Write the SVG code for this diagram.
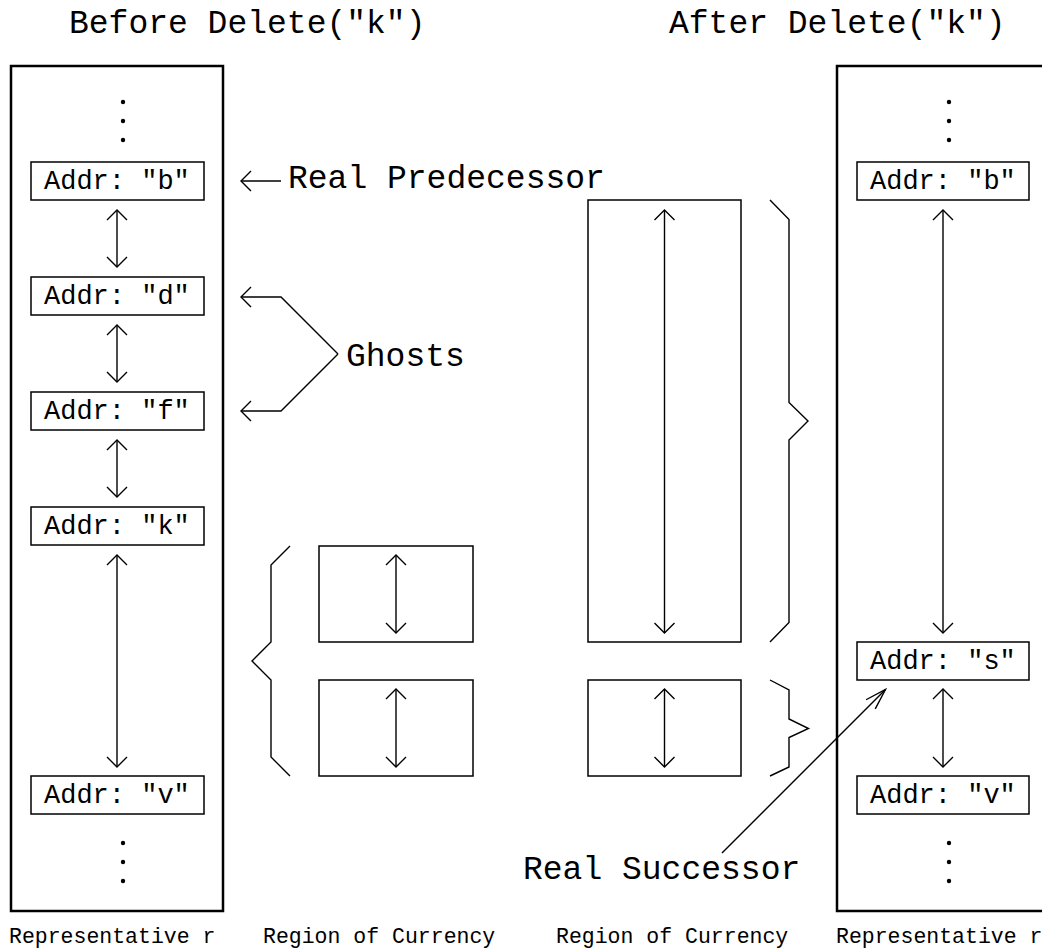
<svg xmlns="http://www.w3.org/2000/svg" width="1042" height="950" viewBox="0 0 1042 950">
<style>
text{font-family:"Liberation Mono","Courier New",monospace;fill:#000}
.title{font-size:33px}
.lbl{font-size:33px}
.addr{font-size:27px}
.foot{font-size:21.5px}
.frame{fill:none;stroke:#000;stroke-width:2.5}
.box{fill:#fff;stroke:#000;stroke-width:1.5}
.reg{fill:none;stroke:#000;stroke-width:1.5}
.ln{fill:none;stroke:#000;stroke-width:1.4}
.dot{fill:#000}
</style>
<defs>
<marker id="ah" markerUnits="userSpaceOnUse" viewBox="-12 -12 14 24" refX="0" refY="0" markerWidth="14" markerHeight="24" orient="auto-start-reverse"><path d="M-10,-10 L0,0 L-10,10" fill="none" stroke="#000" stroke-width="1.4"/></marker>
<marker id="ah2" markerUnits="userSpaceOnUse" viewBox="-22 -8 24 16" refX="0" refY="0" markerWidth="24" markerHeight="16" orient="auto"><path d="M-21,-6.5 L0,0 L-21,6.5" fill="none" stroke="#000" stroke-width="1.4"/></marker>
</defs>

<text class="title" x="69" y="33">Before Delete("k")</text>
<text class="title" x="669" y="33">After Delete("k")</text>

<g id="left-list">
<rect class="frame" x="11" y="66" width="212" height="845"/>
<circle class="dot" cx="123" cy="102" r="2.2"/><circle class="dot" cx="123" cy="121" r="2.2"/><circle class="dot" cx="123" cy="140" r="2.2"/>
<circle class="dot" cx="123" cy="843" r="2.2"/><circle class="dot" cx="123" cy="862" r="2.2"/><circle class="dot" cx="123" cy="881" r="2.2"/>
</g>
<g id="node-b-left"><rect class="box" x="31" y="162" width="173" height="38"/><text class="addr" x="44" y="189">Addr: "b"</text></g>
<g id="node-d-left"><rect class="box" x="31" y="277" width="173" height="38"/><text class="addr" x="44" y="304">Addr: "d"</text></g>
<g id="node-f-left"><rect class="box" x="31" y="392" width="173" height="38"/><text class="addr" x="44" y="419">Addr: "f"</text></g>
<g id="node-k-left"><rect class="box" x="31" y="507" width="173" height="38"/><text class="addr" x="44" y="534">Addr: "k"</text></g>
<g id="node-v-left"><rect class="box" x="31" y="776" width="173" height="38"/><text class="addr" x="44" y="803">Addr: "v"</text></g>

<g id="right-list">
<path class="frame" d="M1045,66 H837 V911 H1045"/>
<circle class="dot" cx="949" cy="102" r="2.2"/><circle class="dot" cx="949" cy="121" r="2.2"/><circle class="dot" cx="949" cy="140" r="2.2"/>
<circle class="dot" cx="949" cy="843" r="2.2"/><circle class="dot" cx="949" cy="862" r="2.2"/><circle class="dot" cx="949" cy="881" r="2.2"/>
</g>
<g id="node-b-right"><rect class="box" x="857" y="162" width="172" height="38"/><text class="addr" x="870" y="189">Addr: "b"</text></g>
<g id="node-s-right"><rect class="box" x="857" y="642" width="172" height="38"/><text class="addr" x="870" y="669">Addr: "s"</text></g>
<g id="node-v-right"><rect class="box" x="857" y="776" width="172" height="38"/><text class="addr" x="870" y="803">Addr: "v"</text></g>

<g id="region-left">
<rect class="reg" x="319" y="546" width="154" height="96"/>
<rect class="reg" x="319" y="680" width="154" height="96"/>
<path class="ln" d="M290,546 L271,565 L271,642 L252,661 L271,680 L271,757 L290,776"/>
</g>
<g id="region-right">
<rect class="reg" x="588" y="200" width="153" height="442"/>
<rect class="reg" x="588" y="680" width="153" height="96"/>
<path class="ln" d="M770,200 L789,219.5 L789,402.5 L808,421 L789,440 L789,622.5 L770,642"/>
<path class="ln" d="M770,680 L789,690 L789,719 L808.5,728.5 L789,737.5 L789,767 L770,776"/>
</g>

<g id="labels">
<text class="lbl" x="288" y="188">Real Predecessor</text>
<text class="lbl" x="346" y="366">Ghosts</text>
<text class="lbl" x="523" y="879">Real Successor</text>
<text class="foot" x="9" y="943">Representative r</text>
<text class="foot" x="263" y="943">Region of Currency</text>
<text class="foot" x="556" y="943">Region of Currency</text>
<text class="foot" x="836" y="943">Representative r</text>
</g>

<g id="connectors">
<line class="ln" x1="117" y1="210" x2="117" y2="267" marker-start="url(#ah)" marker-end="url(#ah)"/>
<line class="ln" x1="117" y1="325" x2="117" y2="382" marker-start="url(#ah)" marker-end="url(#ah)"/>
<line class="ln" x1="117" y1="440" x2="117" y2="497" marker-start="url(#ah)" marker-end="url(#ah)"/>
<line class="ln" x1="117" y1="555" x2="117" y2="767" marker-start="url(#ah)" marker-end="url(#ah)"/>
<line class="ln" x1="396" y1="555" x2="396" y2="633" marker-start="url(#ah)" marker-end="url(#ah)"/>
<line class="ln" x1="396" y1="689" x2="396" y2="767" marker-start="url(#ah)" marker-end="url(#ah)"/>
<line class="ln" x1="664.5" y1="210" x2="664.5" y2="633" marker-start="url(#ah)" marker-end="url(#ah)"/>
<line class="ln" x1="664.5" y1="689" x2="664.5" y2="767" marker-start="url(#ah)" marker-end="url(#ah)"/>
<line class="ln" x1="943" y1="210" x2="943" y2="633" marker-start="url(#ah)" marker-end="url(#ah)"/>
<line class="ln" x1="943" y1="689" x2="943" y2="767" marker-start="url(#ah)" marker-end="url(#ah)"/>
<line class="ln" x1="281" y1="181" x2="241" y2="181" marker-end="url(#ah)"/>
<polyline class="ln" points="338,354 281,297 241,297" marker-end="url(#ah)"/>
<polyline class="ln" points="338,354 281,411 241,411" marker-end="url(#ah)"/>
<line class="ln" x1="722" y1="853" x2="885.5" y2="689.5" marker-end="url(#ah2)"/>
</g>
</svg>
